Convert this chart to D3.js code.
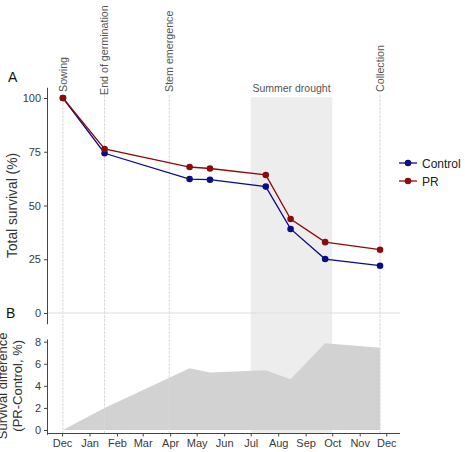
<!DOCTYPE html>
<html><head><meta charset="utf-8">
<script src="https://cdn.jsdelivr.net/npm/d3@7"></script>
<style>body{margin:0;background:#fff}svg{display:block;font-family:"Liberation Sans",Arial,sans-serif}</style>
</head><body><svg id="c" width="465" height="452"></svg>
<script>
const dates = ["2019-12-02","2020-01-18","2020-04-23","2020-05-16","2020-07-18","2020-08-15","2020-09-23","2020-11-24"];
const control = [100, 74.3, 62.3, 62.0, 58.8, 39.1, 25.1, 22.0];
const pr = [100, 76.3, 67.9, 67.2, 64.2, 43.7, 32.95, 29.45];
const seriesNames = ["Control", "PR"];
const seriesColors = ["#0b0b8a", "#8b0a0a"];
const eventNames = ["Sowing", "End of germination", "Stem emergence", "Collection"];
const eventDates = ["2019-12-02", "2020-01-18", "2020-03-31", "2020-11-24"];
const droughtLabel = "Summer drought";
const droughtDates = ["2020-07-01", "2020-10-01"];
const topTicks = [0, 25, 50, 75, 100];
const bottomTicks = [0, 2, 4, 6, 8];

const P = d3.timeParse("%Y-%m-%d");
const svg = d3.select("#c");
const x = d3.scaleTime().domain([P("2019-11-14"), P("2020-12-12")]).range([47, 396]);
const yA = d3.scaleLinear().domain([-5, 105]).range([323.75, 87.25]);
const yB = d3.scaleLinear().domain([-0.4, 8.25]).range([434.4, 338.9]);
const diff = pr.map((v, i) => v - control[i]);
const xL = 47, xR = 400;

// drought band across both panels
svg.append("rect").attr("x", x(P(droughtDates[0]))).attr("y", yA(105) + 10)
  .attr("width", x(P(droughtDates[1])) - x(P(droughtDates[0])))
  .attr("height", 433 - (yA(105) + 10)).attr("fill", "#ededed");
svg.append("text").attr("x", (x(P(droughtDates[0])) + x(P(droughtDates[1]))) / 2).attr("y", 92)
  .attr("text-anchor", "middle").attr("font-size", 10.5).attr("fill", "#555").text(droughtLabel);

// area bottom panel
svg.append("path").datum(dates.map((d, i) => [P(d), diff[i]]))
  .attr("fill", "#d2d2d2")
  .attr("d", d3.area().x(d => x(d[0])).y0(yB(0)).y1(d => yB(d[1])));

// event lines
eventNames.forEach((n, i) => {
  const xe = x(P(eventDates[i]));
  svg.append("line").attr("x1", xe).attr("x2", xe).attr("y1", 95).attr("y2", 433)
    .attr("stroke", "#d9d9d9").attr("stroke-width", 1).attr("stroke-dasharray", "3,1");
  svg.append("text").attr("transform", `translate(${xe + 3.7},${i === 1 ? 95 : 92}) rotate(-90)`)
    .attr("font-size", 10.7).attr("fill", "#555").text(n);
});

// zero hline top
svg.append("line").attr("x1", xL).attr("x2", xR).attr("y1", yA(0)).attr("y2", yA(0))
  .attr("stroke", "#dddddd").attr("stroke-width", 1.2);

// lines
[control, pr].forEach((s, k) => {
  const pts = dates.map((d, i) => [P(d), s[i]]);
  svg.append("path").datum(pts).attr("fill", "none").attr("stroke", seriesColors[k]).attr("stroke-width", 1.3)
    .attr("d", d3.line().x(d => x(d[0])).y(d => yA(d[1])));
  svg.selectAll(null).data(pts).enter().append("circle")
    .attr("cx", d => x(d[0])).attr("cy", d => yA(d[1])).attr("r", 3.3).attr("fill", seriesColors[k]);
});

function styleAxis(g) {
  g.selectAll(".domain").attr("stroke", "#444");
  g.selectAll(".tick line").attr("stroke", "#444");
  g.selectAll(".tick text").attr("fill", "#3a3a3a").attr("font-size", 11).attr("font-family", "Liberation Sans, Arial, sans-serif");
}
// top y axis
const gA = svg.append("g").attr("transform", `translate(${xL},0)`)
  .call(d3.axisLeft(yA).tickValues(topTicks).tickSize(3).tickPadding(3).tickSizeOuter(0));
styleAxis(gA);
// bottom y axis
const gB = svg.append("g").attr("transform", `translate(${xL},0)`)
  .call(d3.axisLeft(yB).tickValues(bottomTicks).tickSize(3).tickPadding(3).tickSizeOuter(0));
styleAxis(gB);
// x axis
const monthTicks = d3.timeMonth.range(P("2019-12-01"), P("2020-12-02"));
const gX = svg.append("g").attr("transform", `translate(0,433.5)`)
  .call(d3.axisBottom(x).tickValues(monthTicks).tickFormat(d3.timeFormat("%b")).tickSize(3).tickPadding(3).tickSizeOuter(0));
gX.select(".domain").attr("d", `M${xL},0H${xR}`);
styleAxis(gX);

// axis titles
svg.append("text").attr("transform", `translate(17,${(yA(0) + yA(100)) / 2}) rotate(-90)`)
  .attr("text-anchor", "middle").attr("font-size", 13.8).attr("fill", "#333").text("Total survival (%)");
const bt = svg.append("text").attr("transform", `translate(7,${(yB(0) + yB(8)) / 2}) rotate(-90)`)
  .attr("text-anchor", "middle").attr("font-size", 13).attr("fill", "#333");
bt.append("tspan").attr("x", 0).attr("dy", 0).text("Survival difference");
bt.append("tspan").attr("x", 0).attr("dy", 15).text("(PR-Control, %)");

// panel labels
svg.append("text").attr("x", 8).attr("y", 82).attr("font-size", 14).attr("fill", "#111").text("A");
svg.append("text").attr("x", 6).attr("y", 318).attr("font-size", 14).attr("fill", "#111").text("B");

// legend
seriesNames.forEach((n, i) => {
  const ly = 163 + i * 18;
  svg.append("line").attr("x1", 399).attr("x2", 417).attr("y1", ly).attr("y2", ly).attr("stroke", seriesColors[i]).attr("stroke-width", 1.3);
  svg.append("circle").attr("cx", 408).attr("cy", ly).attr("r", 3.3).attr("fill", seriesColors[i]);
  svg.append("text").attr("x", 422).attr("y", ly + 4.5).attr("font-size", 12).attr("fill", "#222").text(n);
});
</script></body></html>
